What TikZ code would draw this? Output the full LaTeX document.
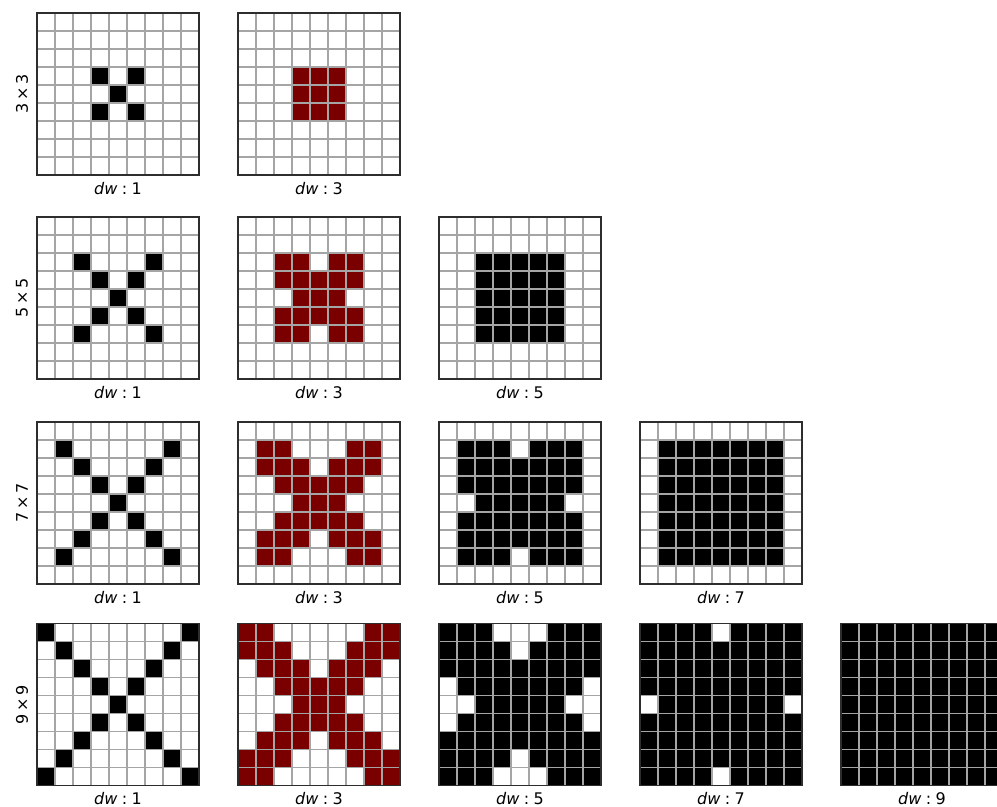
\documentclass[tikz,border=0pt]{standalone}
\usepackage{fontspec}
\setmainfont{DejaVu Sans}
\definecolor{maroonfill}{RGB}{122,0,0}
\definecolor{gridgray}{RGB}{165,165,165}
\definecolor{framegray}{RGB}{45,45,45}
\tikzset{
  gridline/.style={draw=gridgray, line width=0.8pt},
  frameline/.style={draw=framegray, line width=1.1pt},
  lab/.style={inner sep=0pt, font=\fontsize{12}{14}\selectfont},
  rowlab/.style={inner sep=0pt, rotate=90, font=\fontsize{12}{14}\selectfont}
}
% #1 name, #2 x0, #3 y0, #4 kernel, #5 dw, #6 fill colour
\newcommand\kpanel[6]{%
  \begin{scope}[shift={(#2,#3)}]
    \foreach \i in {0,...,8}{%
      \foreach \j in {0,...,8}{%
        \pgfmathtruncatemacro\kon{(abs(\i-4)<=(#4-1)/2) && (abs(\j-4)<=(#4-1)/2) && (abs(abs(\i-4)-abs(\j-4))<=(#5-1)/2) ? 1 : 0}%
        \ifnum\kon=1 \fill[#6] (\j*18,\i*18) rectangle ++(18,18);\fi
      }%
    }%
    \foreach \t in {1,...,8}{%
      \draw[gridline] (\t*18,0) -- (\t*18,162);
      \draw[gridline] (0,\t*18) -- (162,\t*18);
    }%
    \draw[frameline] (0,0) rectangle (162,162);
    \node[lab] (#1-lab) at (81,175.5) {\textit{dw}\;:\;#5};
  \end{scope}%
}
\begin{document}
\begin{tikzpicture}[x=0.75pt,y=-0.75pt]
\useasboundingbox (0,0) rectangle (997,807);
\fill[white] (0,0) rectangle (997,807);
% row 1: 3x3
\kpanel{a1}{37}{13}{3}{1}{black}
\kpanel{a3}{238}{13}{3}{3}{maroonfill}
\node[rowlab] (r3) at (22,94) {3\,×\,3};
% row 2: 5x5
\kpanel{b1}{37}{217}{5}{1}{black}
\kpanel{b3}{238}{217}{5}{3}{maroonfill}
\kpanel{b5}{439}{217}{5}{5}{black}
\node[rowlab] (r5) at (22,298) {5\,×\,5};
% row 3: 7x7
\kpanel{c1}{37}{422}{7}{1}{black}
\kpanel{c3}{238}{422}{7}{3}{maroonfill}
\kpanel{c5}{439}{422}{7}{5}{black}
\kpanel{c7}{640}{422}{7}{7}{black}
\node[rowlab] (r7) at (22,503) {7\,×\,7};
% row 4: 9x9
\kpanel{d1}{37}{623.5}{9}{1}{black}
\kpanel{d3}{238}{623.5}{9}{3}{maroonfill}
\kpanel{d5}{439}{623.5}{9}{5}{black}
\kpanel{d7}{640}{623.5}{9}{7}{black}
\kpanel{d9}{841}{623.5}{9}{9}{black}
\node[rowlab] (r9) at (22,705) {9\,×\,9};
\end{tikzpicture}
\end{document}
